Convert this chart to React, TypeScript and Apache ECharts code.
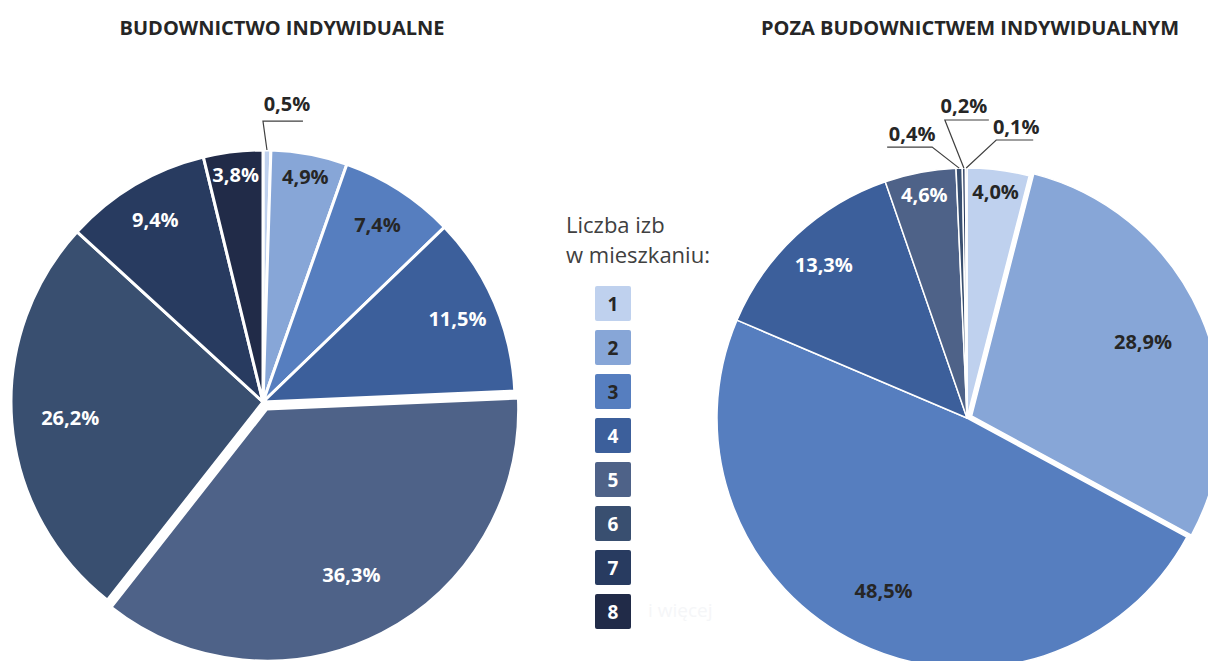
import React, { useEffect, useRef } from "react";
import * as echarts from "echarts";

const categories = ["1", "2", "3", "4", "5", "6", "7", "8"];
const individualValues = [0.5, 4.9, 7.4, 11.5, 36.3, 26.2, 9.4, 3.8];
const otherValues = [4.0, 28.9, 48.5, 13.3, 4.6, 0.4, 0.2, 0.1];
const titles = ["BUDOWNICTWO INDYWIDUALNE", "POZA BUDOWNICTWEM INDYWIDUALNYM"];
const legendTitle = ["Liczba izb", "w mieszkaniu:"];
const legendNote = "i więcej";

const colors = ["#BFD1EE", "#87A6D7", "#567EBF", "#3C5F9B", "#4E6288", "#394F70", "#283B60", "#212B48"];
const textColors = ["#262626", "#262626", "#262626", "#ffffff", "#ffffff", "#ffffff", "#ffffff", "#ffffff"];

const FONT = "'Open Sans', 'DejaVu Sans', sans-serif";

const fmt = (v: number) => v.toFixed(1).replace(".", ",") + "%";

// label-callout placement (style only): offsets relative to slice edge point
type Callout = { cx: number; cy: number; ex: number; lx: number; ly: number };

function makeShapeSeries(
  values: number[],
  center: [number, number],
  radius: number,
  border: number,
  explode: number[],
  offset: number
) {
  return {
    type: "pie",
    center,
    radius,
    startAngle: 90,
    clockwise: true,
    avoidLabelOverlap: false,
    selectedMode: "multiple",
    selectedOffset: offset,
    silent: true,
    itemStyle: { borderColor: "#ffffff", borderWidth: border },
    select: { itemStyle: { borderColor: "#ffffff", borderWidth: border } },
    label: { show: false },
    labelLine: { show: false },
    data: values.map((v, i) => ({
      name: categories[i],
      value: v,
      selected: explode.includes(i),
      itemStyle: { color: colors[i] },
      select: { itemStyle: { color: colors[i] } },
    })),
  };
}

function labelFraction(v: number) {
  if (v < 6) return 0.89;
  if (v < 15) return 0.82;
  return 0.75;
}

function makeLabelSeries(
  values: number[],
  center: [number, number],
  radius: number,
  callouts: Record<number, Callout>
) {
  return {
    type: "pie",
    center,
    radius,
    startAngle: 90,
    clockwise: true,
    avoidLabelOverlap: false,
    silent: true,
    z: 5,
    itemStyle: { color: "rgba(0,0,0,0)", borderWidth: 0 },
    data: values.map((v, i) => {
      const isCallout = !!callouts[i];
      return {
        name: categories[i],
        value: v,
        itemStyle: { color: "rgba(0,0,0,0)" },
        label: {
          show: true,
          position: isCallout ? "outside" : "inside",
          formatter: fmt(v),
          color: isCallout ? "#262626" : textColors[i],
          fontFamily: FONT,
          fontWeight: "bold",
          fontSize: 20,
        },
        labelLine: isCallout
          ? { show: true, length: 10, length2: 10, lineStyle: { color: "#404040", width: 1.2 } }
          : { show: false },
      };
    }),
    labelLayout: (params: any) => {
      const i = params.dataIndex;
      const co = callouts[i];
      if (co) {
        const pts = params.labelLinePoints;
        if (!pts || !pts[0]) return {};
        const p = pts[0];
        return {
          x: p[0] + co.lx,
          y: p[1] + co.ly,
          align: "center",
          verticalAlign: "middle",
          labelLinePoints: [
            [p[0], p[1]],
            [p[0] + co.cx, p[1] + co.cy],
            [p[0] + co.ex, p[1] + co.cy],
          ],
        };
      }
      const r = params.labelRect;
      const lx = r.x + r.width / 2;
      const ly = r.y + r.height / 2;
      const k = labelFraction(values[i]) / 0.5;
      return {
        x: center[0] + (lx - center[0]) * k,
        y: center[1] + (ly - center[1]) * k,
        align: "center",
        verticalAlign: "middle",
      };
    },
  };
}

export default function App() {
  const ref = useRef<HTMLDivElement>(null);

  useEffect(() => {
    if (!ref.current) return;
    const chart = echarts.init(ref.current, undefined, { renderer: "svg" });

    const legendItems: any[] = [];
    categories.forEach((c, i) => {
      const top = 286 + i * 44;
      legendItems.push({
        type: "rect",
        left: 595,
        top,
        shape: { width: 36, height: 35, r: 2 },
        style: { fill: colors[i] },
      });
      legendItems.push({
        type: "text",
        x: 613,
        y: top + 18,
        style: {
          text: c,
          fill: textColors[i],
          font: `bold 19px ${FONT}`,
          align: "center",
          verticalAlign: "middle",
        },
      });
    });

    const calloutsLeft: Record<number, Callout> = {
      0: { cx: -4, cy: -29, ex: 36, lx: 20, ly: -47 },
    };
    const calloutsRight: Record<number, Callout> = {
      5: { cx: -27, cy: -21, ex: -72, lx: -47, ly: -35 },
      6: { cx: -19, cy: -48, ex: 25, lx: 0, ly: -63 },
      7: { cx: 30, cy: -28, ex: 67, lx: 50, ly: -42 },
    };

    chart.setOption({
      animation: false,
      backgroundColor: "#ffffff",
      title: [
        {
          text: titles[0],
          left: 277,
          top: 12,
          textAlign: "center",
          textStyle: { fontFamily: FONT, fontWeight: "bold", fontSize: 20, color: "#262626" },
        },
        {
          text: titles[1],
          left: 965,
          top: 12,
          textAlign: "center",
          textStyle: { fontFamily: FONT, fontWeight: "bold", fontSize: 20, color: "#262626" },
        },
      ],
      graphic: [
        {
          type: "text",
          left: 566,
          top: 213,
          style: { text: legendTitle[0], fill: "#404040", font: `22px ${FONT}` },
        },
        {
          type: "text",
          left: 566,
          top: 243,
          style: { text: legendTitle[1], fill: "#404040", font: `22px ${FONT}` },
        },
        {
          type: "text",
          left: 648,
          top: 600,
          style: { text: legendNote, fill: "#f5f6f8", font: `19px ${FONT}` },
        },
        ...legendItems,
      ],
      series: [
        makeShapeSeries(individualValues, [263, 402], 252, 3, [4], 8),
        makeShapeSeries(otherValues, [967, 418], 250, 1.5, [1], 5),
        makeLabelSeries(individualValues, [263, 402], 252, calloutsLeft),
        makeLabelSeries(otherValues, [967, 418], 250, calloutsRight),
      ],
    });

    return () => chart.dispose();
  }, []);

  return (
    <div
      ref={ref}
      style={{ position: "fixed", left: 0, top: 0, width: 1208, height: 661, background: "#fff" }}
    />
  );
}
